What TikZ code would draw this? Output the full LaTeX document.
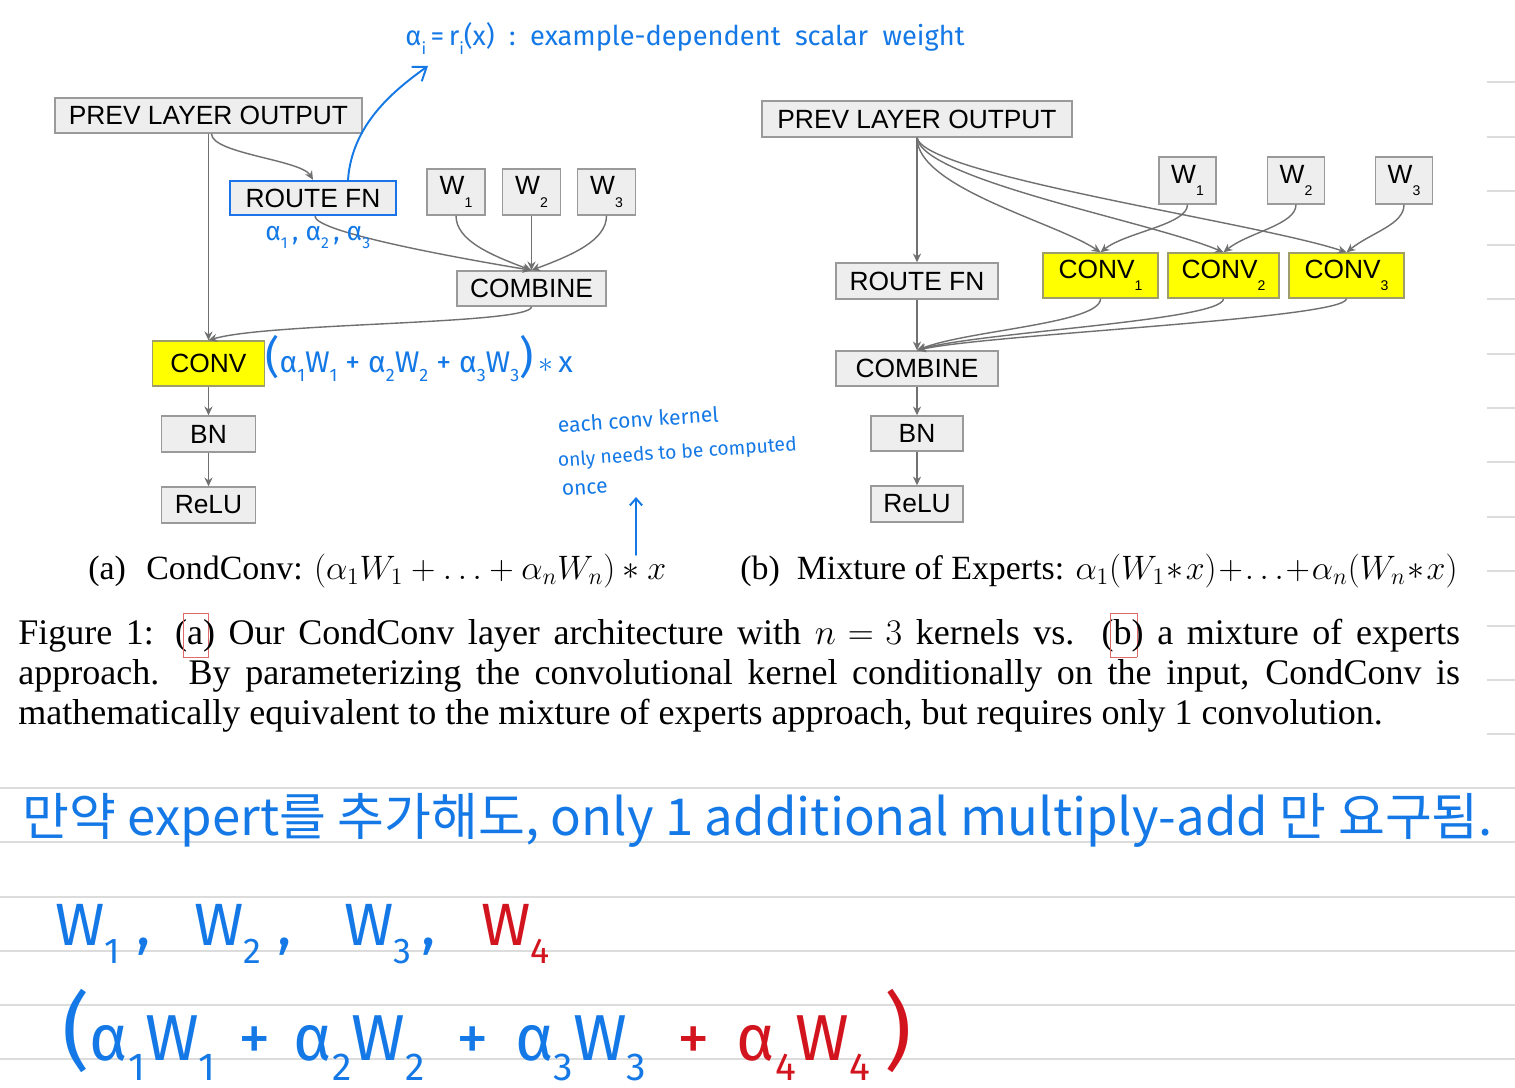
\RequirePackage{fix-cm}
\documentclass[tikz,border=0pt]{standalone}
\usepackage[no-math]{fontspec}
\setmainfont{Liberation Serif}
\setsansfont{Liberation Sans}
\newfontfamily\handfont{Fira Sans}
\newfontfamily\krfont{Noto Sans CJK KR}
\usetikzlibrary{arrows.meta,positioning,calc}

\definecolor{boxgray}{HTML}{EEEEEE}
\definecolor{edgegray}{HTML}{9A9A9A}
\definecolor{linegray}{HTML}{707070}
\definecolor{convyellow}{HTML}{FFFF00}
\definecolor{yellowedge}{HTML}{9E9E6A}
\definecolor{routeblue}{HTML}{1A73E8}
\definecolor{inkblue}{HTML}{1479E6}
\definecolor{inkred}{HTML}{D2141E}
\definecolor{markred}{HTML}{E06A6A}
\definecolor{rulegray}{HTML}{DCDCDC}

% small lowered index, as in the boxes
\newcommand\sub[1]{\raisebox{-0.9ex}{\fontsize{8}{8}\selectfont #1}}
% lowered index for the handwriting
\newcommand\hsub[1]{\raisebox{-0.6ex}{\scalebox{0.6}{#1}}}
% thin red frame round one letter of the caption
\newcommand\boxmark[1]{\rlap{\kern-2.3pt\textcolor{markred}{\smash{\raisebox{-6.8pt}{\fboxsep=0pt\fboxrule=0.5pt\fbox{\rule{0pt}{24.4pt}\phantom{#1}\hspace*{4.6pt}}}}}}#1}
% one justified caption line
\newcommand\capline[1]{\makebox[28.84cm][s]{#1}}

\begin{document}
\begin{tikzpicture}[x=0.02cm, y=-0.02cm,
    box/.style={draw=edgegray, fill=boxgray, line width=0.8pt, inner sep=0pt,
                font=\sffamily\fontsize{15}{17}\selectfont},
    convbox/.style={box, fill=convyellow, draw=yellowedge},
    con/.style={draw=linegray, line width=0.8pt, -{Stealth[length=5pt,width=4.6pt]}},
    ink/.style={inkblue, line width=1.1pt, line cap=round},
    hand/.style={inkblue, inner sep=0pt, font=\handfont\fontsize{15.5}{18}\selectfont},
    rulel/.style={rulegray, line width=1.1pt}
]
    \useasboundingbox[fill=white] (0,0) rectangle (1515,1088);

    % ruled paper
    \foreach \y in {82,137,191,245,299,354,408,462,517,571,626,680,734}
        \draw[rulel] (1487,\y) -- (1515,\y);
    \foreach \y in {788,842,897,951,1005,1059}
        \draw[rulel] (0,\y) -- (1515,\y);

    % (a) CondConv
    \node[box, minimum width=6.14cm, minimum height=0.70cm] (prevA) at (208.5,115.5) {PREV LAYER OUTPUT};
    \node[box, draw=routeblue, line width=1.4pt, minimum width=3.32cm, minimum height=0.68cm] (routeA) at (313,198) {ROUTE FN};
    \foreach \i/\x in {1/456, 2/531.5, 3/606.5}
        \node[box, minimum width=1.16cm, minimum height=0.92cm] (wA\i) at (\x,192) {W\sub{\i}};
    \node[box, minimum width=2.98cm, minimum height=0.70cm] (combA) at (531.5,288.5) {COMBINE};
    \node[convbox, minimum width=2.24cm, minimum height=0.90cm] (convA) at (208.5,363.5) {CONV};
    \node[box, minimum width=1.88cm, minimum height=0.72cm] (bnA) at (208.5,434) {BN};
    \node[box, minimum width=1.88cm, minimum height=0.72cm] (reluA) at (208.5,505) {ReLU};

    \draw[con] (prevA) -- (convA);
    \draw[con] ($(prevA.south)+(3,0)$) .. controls +(0,20) and +(-12,-20) .. (routeA.north);
    \draw[con] ($(routeA.south)+(2,0)$) .. controls +(0,15) and +(-90,-15) .. (combA.north);
    \draw[con] (wA1.south) .. controls +(0,25) and +(-40,-15) .. (combA.north);
    \draw[con] (wA2) -- (combA);
    \draw[con] (wA3.south) .. controls +(0,25) and +(40,-15) .. (combA.north);
    \draw[con] (combA.south) .. controls +(0,18) and +(60,-18) .. (convA.north);
    \draw[con] (convA) -- (bnA);
    \draw[con] (bnA) -- (reluA);

    % (b) mixture of experts
    \node[box, minimum width=6.20cm, minimum height=0.72cm] (prevB) at (917,119) {PREV LAYER OUTPUT};
    \foreach \i/\x in {1/1187.5, 2/1296, 3/1404}
        \node[box, minimum width=1.14cm, minimum height=0.94cm] (wB\i) at (\x,180.5) {W\sub{\i}};
    \node[box, minimum width=3.24cm, minimum height=0.72cm] (routeB) at (917,281) {ROUTE FN};
    \node[convbox, minimum width=2.30cm, minimum height=0.90cm] (convB1) at (1100.5,275.5) {CONV\sub{1}};
    \node[convbox, minimum width=2.22cm, minimum height=0.90cm] (convB2) at (1223.5,275.5) {CONV\sub{2}};
    \node[convbox, minimum width=2.30cm, minimum height=0.90cm] (convB3) at (1346.5,275.5) {CONV\sub{3}};
    \node[box, minimum width=3.24cm, minimum height=0.70cm] (combB) at (917,368.5) {COMBINE};
    \node[box, minimum width=1.84cm, minimum height=0.70cm] (bnB) at (917,433.5) {BN};
    \node[box, minimum width=1.84cm, minimum height=0.72cm] (reluB) at (917,504) {ReLU};

    \draw[con] (prevB) -- (routeB);
    \draw[con] (prevB.south) .. controls +(0,50) and +(-45,-30) .. (convB1.north);
    \draw[con] (prevB.south) .. controls +(5,42) and +(-70,-30) .. (convB2.north);
    \draw[con] (prevB.south) .. controls +(8,38) and +(-90,-30) .. (convB3.north);
    \foreach \i in {1,2,3} {
        \draw[con] (wB\i.south) .. controls +(0,20) and +(25,-20) .. (convB\i.north);
    }
    \draw[con] (routeB) -- (combB);
    \draw[con] (convB1.south) .. controls +(0,25) and +(50,-20) .. (combB.north);
    \draw[con] (convB2.south) .. controls +(0,22) and +(60,-18) .. (combB.north);
    \draw[con] (convB3.south) .. controls +(0,20) and +(70,-16) .. (combB.north);
    \draw[con] (combB) -- (bnB);
    \draw[con] (bnB) -- (reluB);

    % subcaptions and caption
    \node[anchor=base west, inner sep=0pt, font=\fontsize{19.3}{22}\selectfont] (capA) at (88,579)
        {(a)\hspace{0.6em}CondConv: $(\alpha_1W_1+\ldots+\alpha_nW_n)*x$};
    \node[anchor=base west, inner sep=0pt, font=\fontsize{19.3}{22}\selectfont] (capB) at (740,579)
        {(b)\hspace{0.5em}Mixture of Experts: $\medmuskip=1mu\alpha_1(W_1*x)+\ldots+\alpha_n(W_n*x)$};
    \node[anchor=north west, inner sep=0pt, align=left,
          font=\fontsize{20.5}{22.7}\selectfont] (figCap) at (18,619)
        {\capline{Figure 1: (\boxmark{a}) Our CondConv layer architecture with $\thickmuskip=6mu n=3$ kernels vs.\ \ (\boxmark{b}) a mixture of experts}\\
         \capline{approach.\ \ By parameterizing the convolutional kernel conditionally on the input, CondConv is}\\
         mathematically equivalent to the mixture of experts approach, but requires only 1 convolution.};

    % handwritten notes
    \node[hand, anchor=base west] (noteAlpha) at (405,46)
        {α\hsub{i}\,=\,r\hsub{i}(x)\ \ :\ \ example-dependent\ \ scalar\ \ weight};
    \coordinate (alphaTip) at (428,66);
    \draw[ink, -{Straight Barb[length=7pt,width=10pt]}] ($(routeA.north)+(35,0)$)
        .. controls +(4,-55) and +(-35,25) .. (alphaTip);
    \node[hand, anchor=base west, font=\handfont\fontsize{15}{17}\selectfont] (noteAlphas) at (265,240)
        {α\hsub{1}\,,\ α\hsub{2}\,,\ α\hsub{3}};
    \node[hand, anchor=base west, font=\handfont\fontsize{17}{19}\selectfont] (noteSum) at (265,372)
        {{\fontsize{25}{25}\selectfont(}α\hsub{1}W\hsub{1} + α\hsub{2}W\hsub{2} + α\hsub{3}W\hsub{3}{\fontsize{25}{25}\selectfont)}\,$\ast$\,x};
    \node[hand, anchor=base west, rotate=4, font=\handfont\fontsize{12}{14}\selectfont] (noteOnce1) at (558,433) {each conv kernel};
    \node[hand, anchor=base west, rotate=4, font=\handfont\fontsize{11}{14}\selectfont] (noteOnce2) at (558,467) {only needs to be computed};
    \node[hand, anchor=base west, rotate=4, font=\handfont\fontsize{12}{14}\selectfont] (noteOnce3) at (562,496) {once};
    \coordinate (onceTail) at (636,555);
    \coordinate (onceTip) at (636,497);
    \draw[ink, -{Straight Barb[length=4pt,width=7pt]}] (onceTail) -- (onceTip);

    \node[hand, anchor=base west, font=\krfont\fontsize{29}{32}\selectfont] (noteKr) at (22,835)
        {만약 expert를 추가해도, only 1 additional multiply-add 만 요구됨.};
    \node[hand, anchor=base west, font=\handfont\fontsize{34}{40}\selectfont] (noteW) at (55,945)
        {W\hsub{1}\ ,\hspace{25pt}W\hsub{2}\ ,\hspace{30pt}W\hsub{3}\,,\hspace{26pt}\textcolor{inkred}{W\hsub{4}}};
    \node[hand, anchor=base west, font=\handfont\fontsize{37}{42}\selectfont] (noteSum4) at (62,1060)
        {{\fontsize{48}{48}\selectfont(}α\hsub{1}W\hsub{1}\hspace{13pt}+\hspace{13pt}α\hsub{2}W\hsub{2}\hspace{18pt}+\hspace{15pt}α\hsub{3}W\hsub{3}\hspace{18pt}%
         \textcolor{inkred}{+\hspace{15pt}α\hsub{4}W\hsub{4}\hspace{8pt}{\fontsize{48}{48}\selectfont)}}};
\end{tikzpicture}
\end{document}
